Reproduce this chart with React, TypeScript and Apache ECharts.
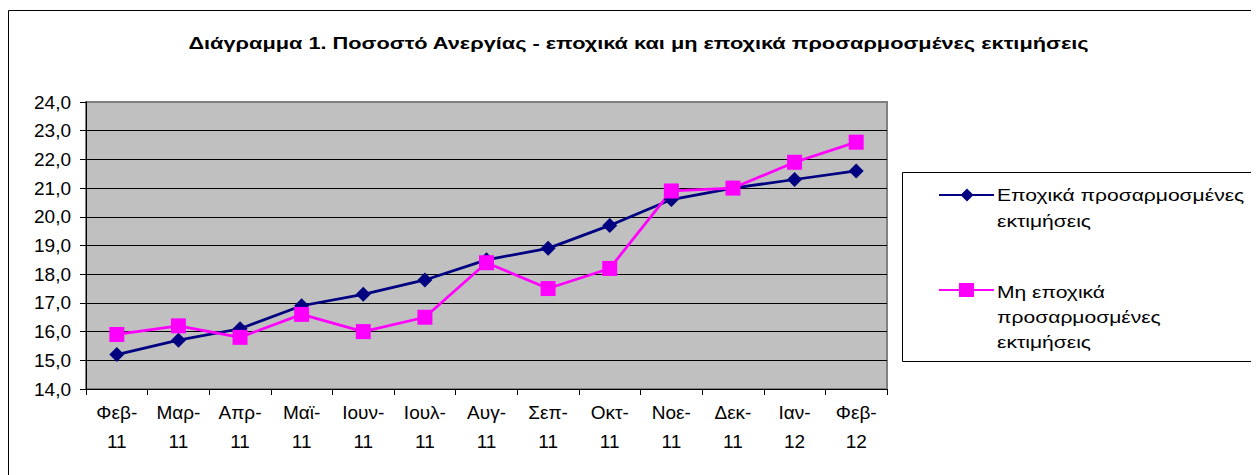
import React, { useEffect, useRef } from "react";
import * as echarts from "echarts";

const categories = ["Φεβ-\n11", "Μαρ-\n11", "Απρ-\n11", "Μαϊ-\n11", "Ιουν-\n11", "Ιουλ-\n11", "Αυγ-\n11", "Σεπ-\n11", "Οκτ-\n11", "Νοε-\n11", "Δεκ-\n11", "Ιαν-\n12", "Φεβ-\n12"];
const seasonal = [15.2, 15.7, 16.1, 16.9, 17.3, 17.8, 18.5, 18.9, 19.7, 20.6, 21.0, 21.3, 21.6];
const nonSeasonal = [15.9, 16.2, 15.8, 16.6, 16.0, 16.5, 18.4, 17.5, 18.2, 20.9, 21.0, 21.9, 22.6];
const seriesNames = ["Εποχικά προσαρμοσμένες\nεκτιμήσεις", "Μη εποχικά\nπροσαρμοσμένες\nεκτιμήσεις"];
const title = "Διάγραμμα 1. Ποσοστό Ανεργίας - εποχικά και μη εποχικά προσαρμοσμένες εκτιμήσεις";

const FONT = 'Arial, "Liberation Sans", sans-serif';
const NAVY = "#000080";
const MAGENTA = "#FF00FF";
const STRETCH = 1.28;
const LEGEND_STRETCH = 1.24;

export default function App() {
  const ref = useRef<HTMLDivElement>(null);
  useEffect(() => {
    if (!ref.current) return;
    const chart = echarts.init(ref.current, null, { renderer: "svg" });
    const legendX = 894;
    chart.setOption({
      animation: false,
      backgroundColor: "#ffffff",
      grid: {
        left: 78,
        top: 94,
        width: 801,
        height: 287,
        show: true,
        backgroundColor: "#C0C0C0",
        borderColor: "#808080",
        borderWidth: 2,
        containLabel: false,
      },
      xAxis: {
        type: "category",
        data: categories,
        boundaryGap: true,
        axisLine: { show: true, lineStyle: { color: "#000", width: 1 } },
        axisTick: { show: true, length: 6, inside: false, alignWithLabel: false, lineStyle: { color: "#000" } },
        axisLabel: { fontFamily: FONT, fontSize: 19, color: "#000", lineHeight: 29, margin: 9, interval: 0 },
        splitLine: { show: false },
      },
      yAxis: {
        type: "value",
        min: 14,
        max: 24,
        interval: 1,
        axisLine: { show: true, lineStyle: { color: "#000", width: 1 } },
        axisTick: { show: true, length: 6, inside: false, lineStyle: { color: "#000" } },
        axisLabel: {
          fontFamily: FONT,
          fontSize: 19,
          color: "#000",
          margin: 15,
          formatter: (v: number) => v.toFixed(1).replace(".", ","),
        },
        splitLine: { show: true, showMaxLine: false, showMinLine: false, lineStyle: { color: "#000", width: 1 } },
      },
      series: [
        {
          name: seriesNames[0],
          type: "line",
          data: seasonal,
          symbol: "diamond",
          symbolSize: 15,
          itemStyle: { color: NAVY },
          lineStyle: { color: NAVY, width: 2.75 },
        },
        {
          name: seriesNames[1],
          type: "line",
          data: nonSeasonal,
          symbol: "rect",
          symbolSize: 15,
          itemStyle: { color: MAGENTA },
          lineStyle: { color: MAGENTA, width: 2.75 },
        },
      ],
      graphic: [
        {
          type: "rect",
          shape: { x: 0.5, y: 2.5, width: 1300, height: 600 },
          style: { fill: "none", stroke: "#000", lineWidth: 1 },
          silent: true,
        },
        {
          type: "text",
          x: 630.5,
          y: 35,
          scaleX: STRETCH,
          style: {
            text: title,
            font: `bold 17px ${FONT}`,
            fill: "#000",
            textAlign: "center",
            textVerticalAlign: "middle",
          },
        },
        {
          type: "rect",
          shape: { x: legendX + 0.5, y: 164.5, width: 355.5, height: 189 },
          style: { fill: "#fff", stroke: "#000", lineWidth: 1 },
          silent: true,
        },
        {
          type: "line",
          shape: { x1: legendX + 37, y1: 187, x2: legendX + 92, y2: 187 },
          style: { stroke: NAVY, lineWidth: 2 },
        },
        {
          type: "polygon",
          shape: { points: [[legendX + 65, 180.5], [legendX + 71.5, 187], [legendX + 65, 193.5], [legendX + 58.5, 187]] },
          style: { fill: NAVY },
        },
        {
          type: "text",
          x: legendX + 95,
          y: 174,
          scaleX: LEGEND_STRETCH,
          style: { text: seriesNames[0], font: `17px ${FONT}`, fill: "#000", lineHeight: 26, textVerticalAlign: "top" },
        },
        {
          type: "line",
          shape: { x1: legendX + 37, y1: 282, x2: legendX + 92, y2: 282 },
          style: { stroke: MAGENTA, lineWidth: 2 },
        },
        {
          type: "rect",
          shape: { x: legendX + 57, y: 275, width: 15, height: 14 },
          style: { fill: MAGENTA },
        },
        {
          type: "text",
          x: legendX + 95,
          y: 271.5,
          scaleX: LEGEND_STRETCH,
          style: { text: seriesNames[1], font: `17px ${FONT}`, fill: "#000", lineHeight: 25, textVerticalAlign: "top" },
        },
      ],
    });
    return () => chart.dispose();
  }, []);
  return <div ref={ref} style={{ width: 1251, height: 467 }} />;
}
